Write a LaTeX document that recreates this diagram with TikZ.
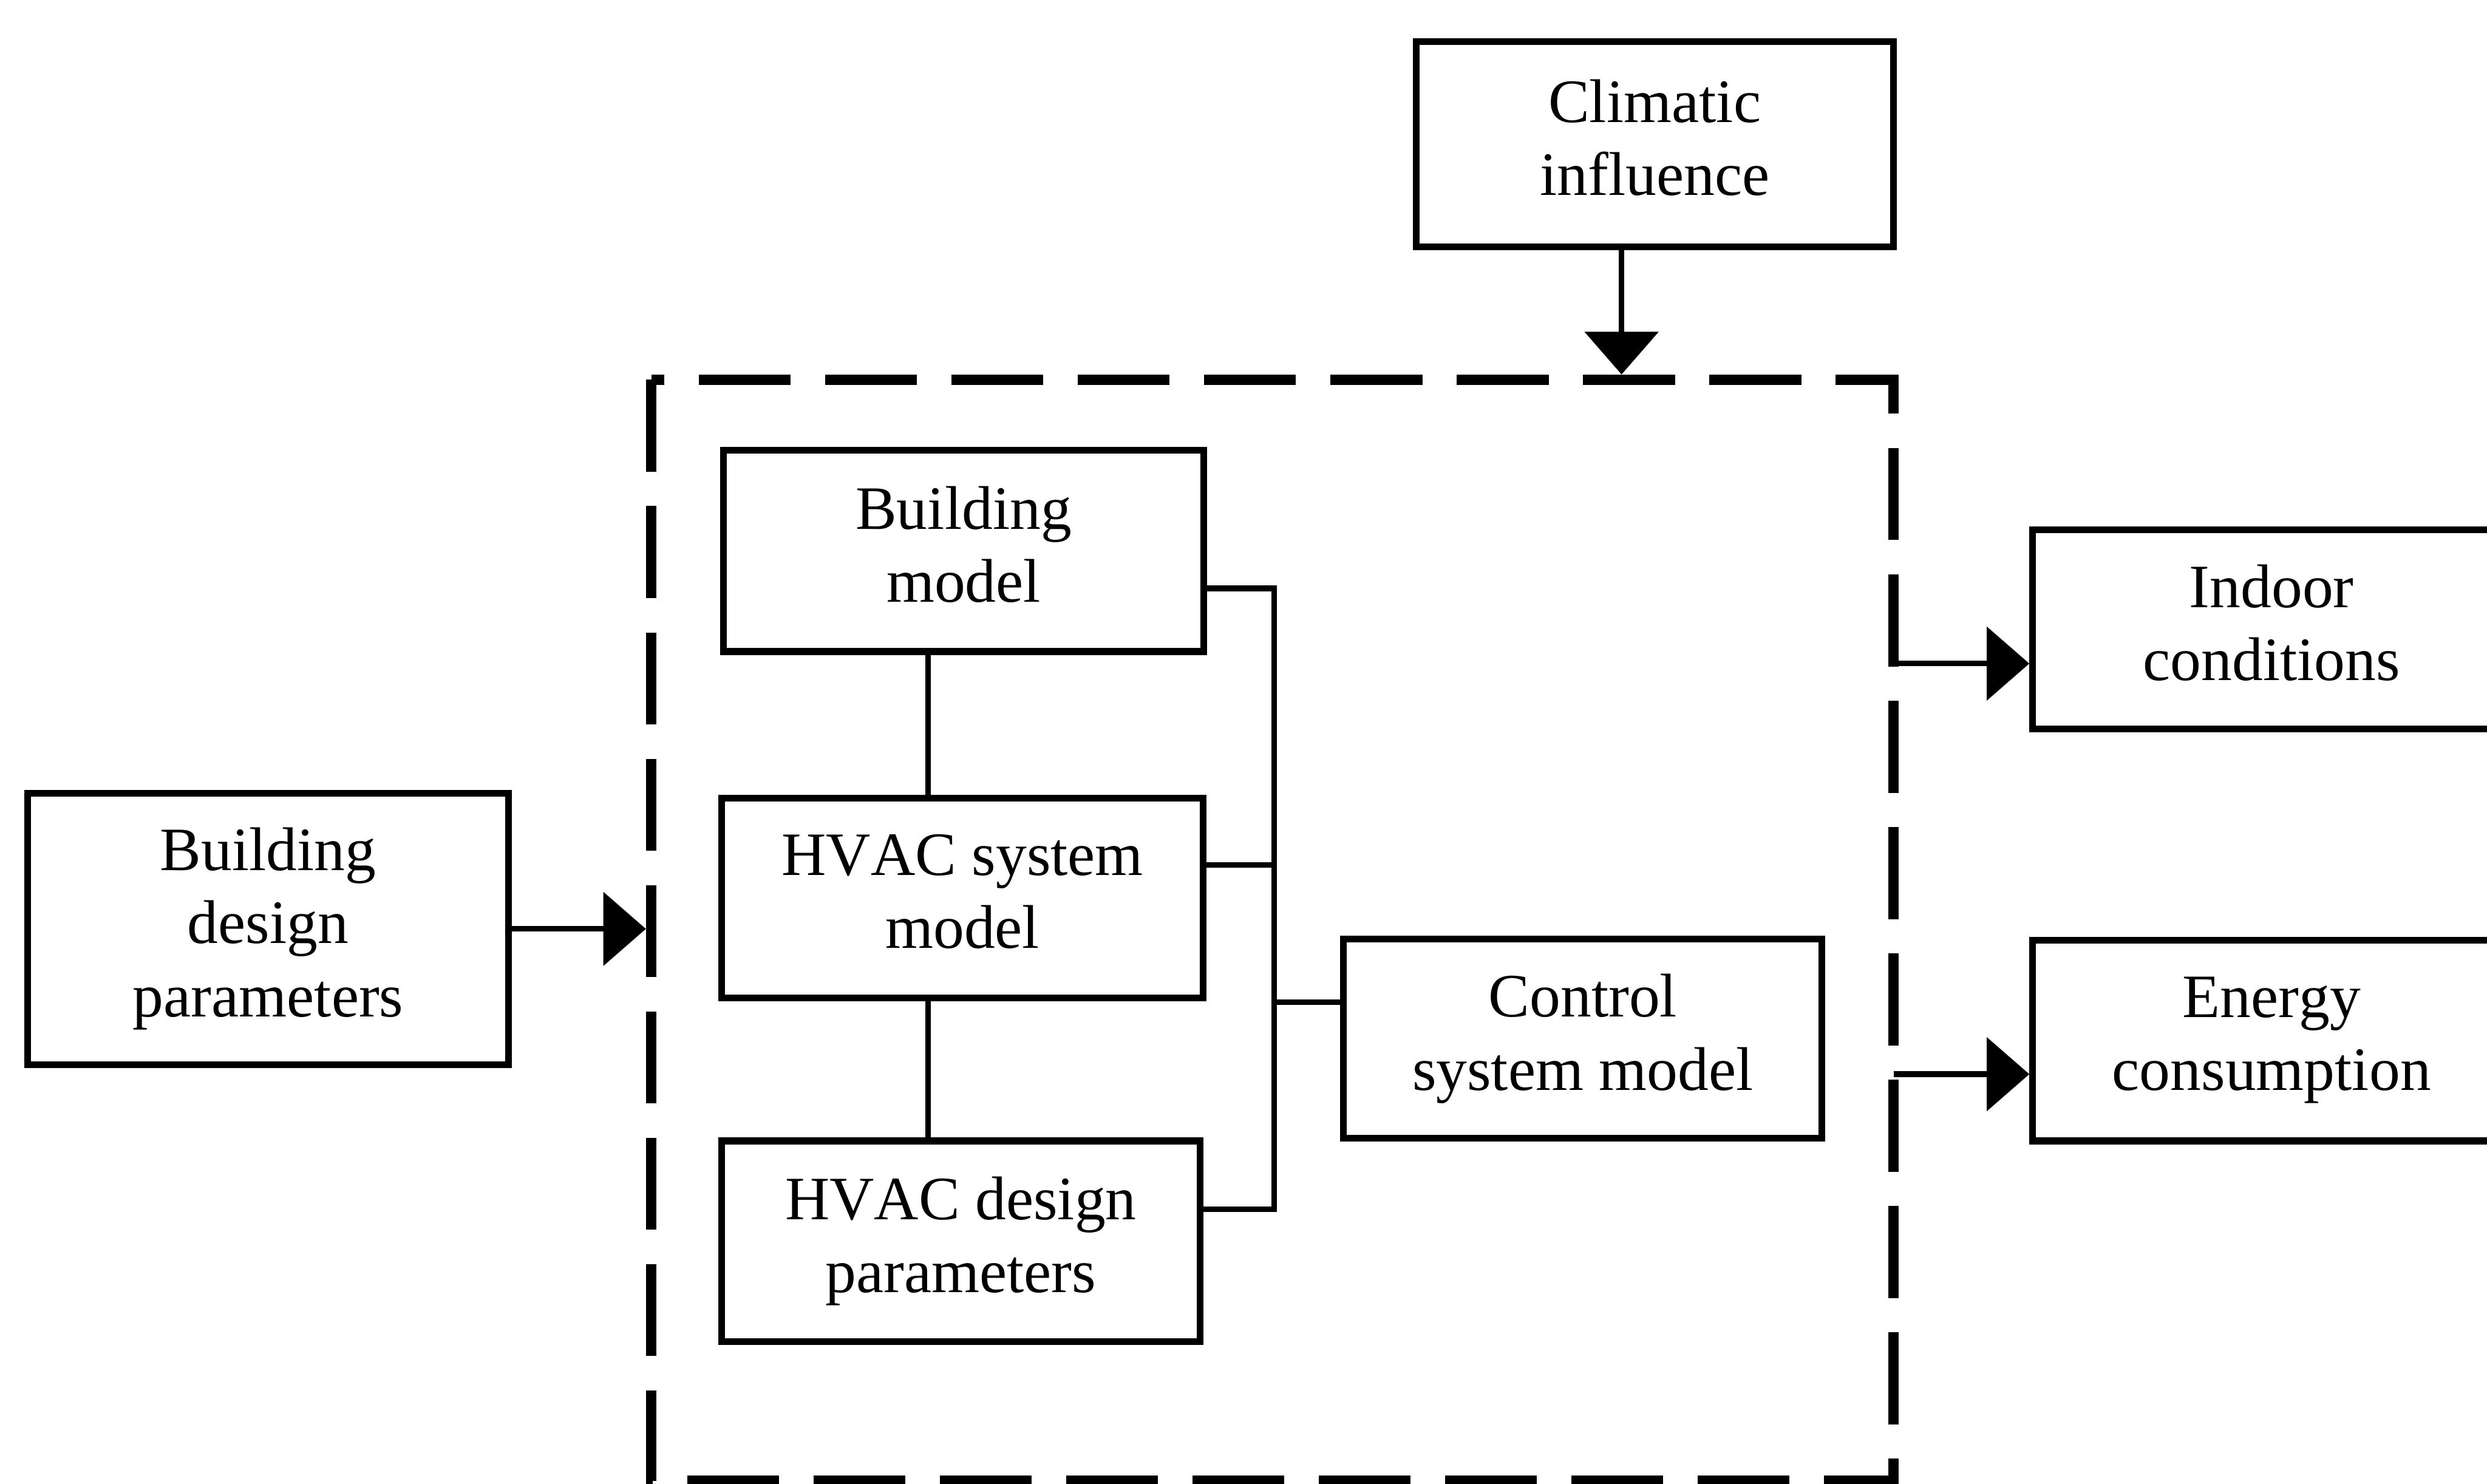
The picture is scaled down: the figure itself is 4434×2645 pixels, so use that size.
\documentclass[tikz,border=0pt]{standalone}
\usepackage{fontspec}
\setmainfont{Liberation Serif}[Kerning=Off]
\usetikzlibrary{arrows.meta}
\begin{document}
\begin{tikzpicture}[x=0.1pt, y=-0.1pt,
  blk/.style={draw, line width=1.2pt, rectangle, inner sep=0pt, align=center,
    font=\fontsize{11pt}{13pt}\selectfont,
    execute at begin node=\rule{0pt}{9pt},
    execute at end node=\rule[-2.4pt]{0pt}{2.4pt}},
  wire/.style={line width=1pt},
  arr/.style={line width=1pt, -{Triangle[length=7.6pt,width=13pt]}},
  dashbox/.style={line width=1.9pt, dash pattern=on 16.4pt off 6.12pt, line join=miter}]
% page frame
\path[use as bounding box] (0,0) rectangle (4434,2645);
\clip (0,0) rectangle (4434,2645);
\fill[white] (0,0) rectangle (4434,2645);

% blocks
\node[blk, minimum width=85.1pt, minimum height=36.6pt] (clim) at (2950,257) {Climatic\\influence};
\node[blk, minimum width=85.7pt, minimum height=48.4pt] (bdp) at (478,1656) {Building\\design\\parameters};
\node[blk, minimum width=85.6pt, minimum height=35.9pt] (bm) at (1718,982) {Building\\model};
\node[blk, minimum width=85.9pt, minimum height=35.6pt] (hs) at (1716,1601) {HVAC system\\model};
\node[blk, minimum width=85.3pt, minimum height=35.8pt] (hd) at (1713,2213) {HVAC design\\parameters};
\node[blk, minimum width=85.3pt, minimum height=35.5pt] (cs) at (2822,1852) {Control\\system model};
\node[blk, minimum width=85.2pt, minimum height=35.6pt] (ind) at (4050,1122) {Indoor\\conditions};
\node[blk, minimum width=85.2pt, minimum height=35.8pt] (en) at (4050,1855) {Energy\\consumption};

% simulation boundary (dashed)
\node[minimum width=221.5pt, minimum height=196.3pt, inner sep=0pt, outer sep=0pt] (sim) at (2268.5,1658.5) {};
\draw[dashbox] (sim.north west) -- (sim.south west) -- (sim.south east) -- (sim.north east) -- cycle;

% reference coordinates for off-centre connectors
\coordinate (vx) at (1655,0);
\coordinate (bA) at (2272,1049);
\coordinate (bB) at (2272,1542);
\coordinate (bC) at (2272,1787);
\coordinate (bD) at (2272,2156);
\coordinate (ca) at (2891,0);
\coordinate (yI) at (0,1183);
\coordinate (yE) at (0,1915);

% internal links
\draw[wire] (bm.south -| vx) -- (hs.north -| vx);
\draw[wire] (hs.south -| vx) -- (hd.north -| vx);
\draw[wire] (bm.east |- bA) -- (bA) -- (bD) -- (hd.east |- bD);
\draw[wire] (hs.east |- bB) -- (bB);
\draw[wire] (bC) -- (cs.west |- bC);

% inputs and outputs
\draw[arr, shorten >=0.95pt] (clim.south -| ca) -- (sim.north -| ca);
\draw[arr, shorten >=0.95pt] (bdp.east) -- (sim.west |- bdp.east);
\draw[arr] (sim.east |- yI) -- (ind.west |- yI);
\draw[arr] (sim.east |- yE) -- (en.west |- yE);
\end{tikzpicture}
\end{document}
